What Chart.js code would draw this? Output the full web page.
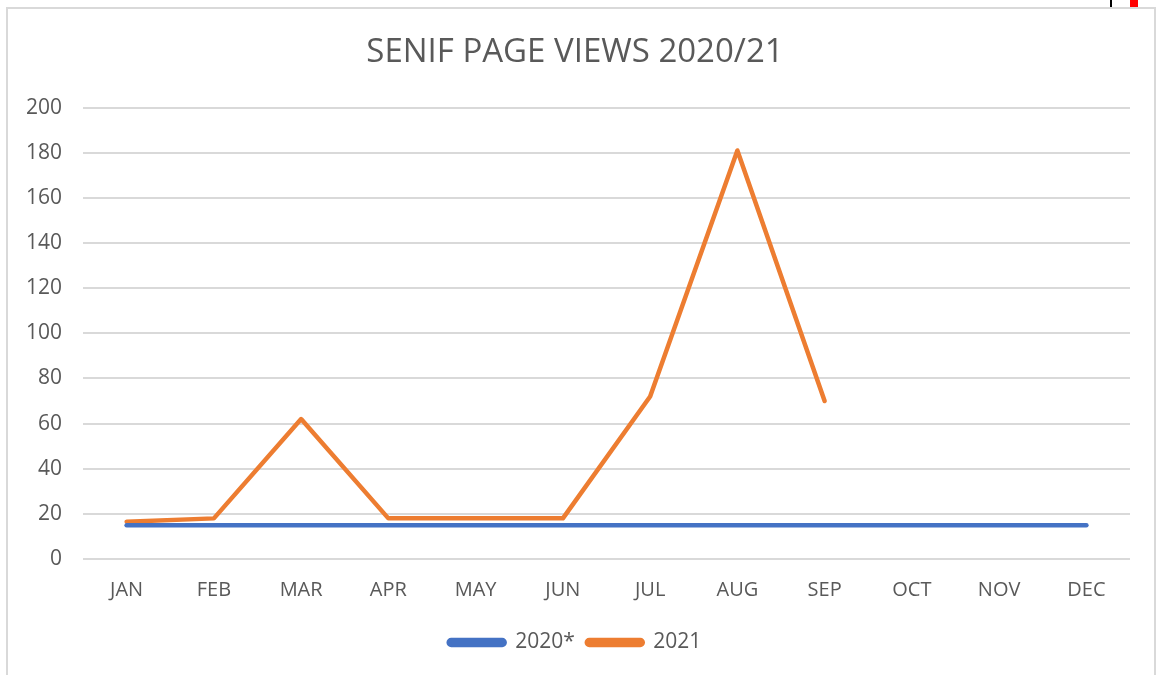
<!DOCTYPE html>
<html>
<head>
<meta charset="utf-8">
<script src="https://cdn.jsdelivr.net/npm/chart.js@4.4.1/dist/chart.umd.min.js"></script>
<style>
  html, body { margin: 0; padding: 0; background: #fff; }
  body { width: 1168px; height: 675px; position: relative; overflow: hidden; }
  #frame { position: absolute; left: 6px; top: 7px; width: 1150px; height: 720px; border: 2px solid #d9d9d9; box-sizing: border-box; }
  #chart { position: absolute; left: 0; top: 0; }
  .mark { position: absolute; top: 0; height: 7px; }
</style>
</head>
<body>
<div id="frame"></div>
<div class="mark" style="left:1110px;width:2px;background:#000;"></div>
<div class="mark" style="left:1130px;width:8px;background:#ff0000;"></div>
<canvas id="chart" width="1168" height="675"></canvas>
<script>
const months = ['JAN', 'FEB', 'MAR', 'APR', 'MAY', 'JUN', 'JUL', 'AUG', 'SEP', 'OCT', 'NOV', 'DEC'];
const views2020 = [15, 15, 15, 15, 15, 15, 15, 15, 15, 15, 15, 15];
const views2021 = [16.5, 18, 62, 18, 18, 18, 72, 181, 70, null, null, null];
const yTicks = [0, 20, 40, 60, 80, 100, 120, 140, 160, 180, 200];

const gray = '#595959';
const fontFamily = "'Open Sans', 'Liberation Sans', sans-serif";

const ctx = document.getElementById('chart').getContext('2d');
new Chart(ctx, {
    type: 'line',
    data: {
        labels: months,
        datasets: [
            {
                label: '2020*',
                data: views2020,
                borderColor: '#4472C4',
                backgroundColor: '#4472C4',
                borderWidth: 4.5,
                pointRadius: 0,
                borderCapStyle: 'round',
                borderJoinStyle: 'round',
                tension: 0
            },
            {
                label: '2021',
                data: views2021,
                borderColor: '#ED7D31',
                backgroundColor: '#ED7D31',
                borderWidth: 4.5,
                pointRadius: 0,
                borderCapStyle: 'round',
                borderJoinStyle: 'round',
                tension: 0,
                spanGaps: false
            }
        ]
    },
    options: {
        responsive: false,
        animation: false,
        layout: { padding: { left: 20, right: 38, top: 0, bottom: 12 } },
        plugins: {
            title: {
                display: true,
                text: 'SENIF PAGE VIEWS 2020/21',
                color: gray,
                font: { family: fontFamily, size: 33, weight: 'normal' },
                padding: { top: 33, bottom: 35 }
            },
            legend: {
                position: 'bottom',
                labels: {
                    color: gray,
                    font: { family: fontFamily, size: 21 },
                    boxWidth: 56,
                    boxHeight: 5,
                    useBorderRadius: true,
                    borderRadius: 2.5,
                    padding: 12
                }
            },
            tooltip: { enabled: false }
        },
        scales: {
            x: {
                offset: true,
                grid: { display: false, drawTicks: false },
                border: { display: false },
                afterFit: scale => { scale.height = 61; },
                ticks: { color: gray, font: { family: fontFamily, size: 20 }, padding: 19, maxRotation: 0 }
            },
            y: {
                min: 0,
                max: 200,
                afterBuildTicks: scale => { scale.ticks = yTicks.map(v => ({ value: v })); },
                afterFit: scale => { scale.width = 63; },
                grid: { color: '#d9d9d9', lineWidth: 2, drawTicks: false },
                border: { display: false },
                ticks: { color: gray, font: { family: fontFamily, size: 21 }, padding: 21 }
            }
        }
    }
});
</script>
</body>
</html>
